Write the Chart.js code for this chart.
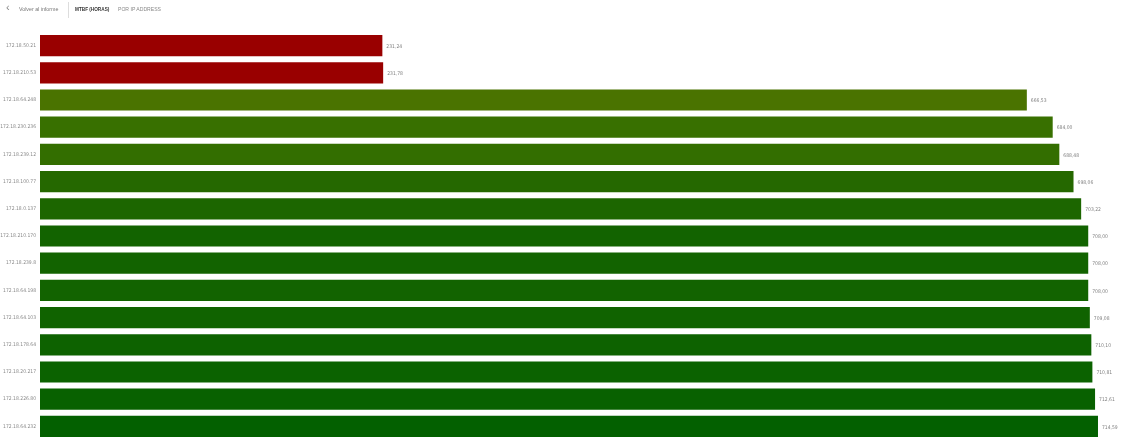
<!DOCTYPE html>
<html>
<head>
<meta charset="utf-8">
<script src="https://cdn.jsdelivr.net/npm/chart.js@4.4.1/dist/chart.umd.min.js"></script>
<style>
  html,body{margin:0;padding:0;background:#fff;}
  #wrap{position:relative;width:1122px;height:439px;overflow:hidden;}
  #c{position:absolute;left:0;top:0;}
  .hdr{position:absolute;font-family:"Liberation Sans",sans-serif;font-size:6px;white-space:nowrap;transform-origin:0 0;}
</style>
</head>
<body>
<div id="wrap">
  <canvas id="c" width="1122" height="447"></canvas>
  <div class="hdr" style="left:6px;top:2px;color:#888;font-size:11px;line-height:11px;">&#8249;</div>
  <div class="hdr" style="left:19px;top:6px;color:#777;transform:scaleX(0.88);">Volver al informe</div>
  <div style="position:absolute;left:68px;top:2px;width:1px;height:16px;background:#ddd;"></div>
  <div class="hdr" style="left:75px;top:6px;color:#333;font-weight:bold;transform:scaleX(0.78);">MTBF (HORAS)</div>
  <div class="hdr" style="left:118px;top:6px;color:#888;transform:scaleX(0.85);">POR IP ADDRESS</div>
</div>
<script>
const categories = ["172.18.50.21","172.18.210.53","172.18.64.248","172.18.230.236","172.18.239.12","172.18.100.77","172.18.0.137","172.18.210.170","172.18.239.8","172.18.64.198","172.18.64.103","172.18.178.64","172.18.20.217","172.18.226.80","172.18.64.232"];
const mtbfValues = [231.24,231.78,666.53,684.00,688.48,698.06,703.22,708.00,708.00,708.00,709.08,710.10,710.81,712.61,714.59];
const barColors = ["#990000","#990000","#4a7300","#387000","#336e00","#256800","#1c6600","#126300","#126300","#126300","#106300","#0d6200","#0b6200","#086100","#036000"];

const fmt = v => v.toFixed(2).replace('.', ',');

const valueLabels = {
  id:'valueLabels',
  afterDatasetsDraw(chart){
    const ctx = chart.ctx;
    const meta = chart.getDatasetMeta(0);
    ctx.save();
    ctx.font = '5px "DejaVu Sans Condensed", "Liberation Sans", sans-serif';
    ctx.fillStyle = '#808080';
    ctx.textAlign = 'left';
    ctx.textBaseline = 'middle';
    meta.data.forEach((bar,i)=>{
      ctx.fillText(fmt(mtbfValues[i]), bar.x + 4, bar.y + 1);
    });
    ctx.restore();
  }
};

new Chart(document.getElementById('c'), {
  type:'bar',
  data:{
    labels:categories,
    datasets:[{
      data:mtbfValues,
      backgroundColor:barColors,
      borderWidth:0,
      barPercentage:0.78,
      categoryPercentage:1.0
    }]
  },
  options:{
    indexAxis:'y',
    responsive:false,
    animation:false,
    layout:{padding:{top:32,right:16,bottom:0,left:0}},
    plugins:{legend:{display:false},tooltip:{enabled:false}},
    scales:{
      x:{min:0,max:720,display:false,grid:{display:false}},
      y:{
        grid:{display:false,drawTicks:false},
        border:{display:false},
        ticks:{
          color:'#888',
          padding:4,
          font:{family:'"DejaVu Sans Condensed", "Liberation Sans", sans-serif',size:5}
        },
        afterFit(scale){ scale.width = 40; }
      }
    }
  },
  plugins:[valueLabels]
});
</script>
</body>
</html>
